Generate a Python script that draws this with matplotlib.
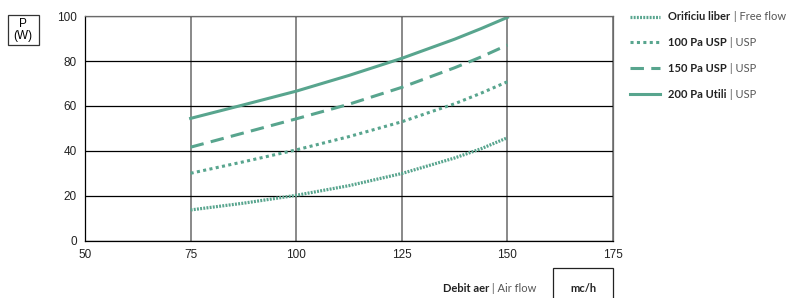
import matplotlib.pyplot as plt
from matplotlib.patches import Rectangle

# air flow (mc/h) and power (W)
flow = [75, 87.5, 100, 112.5, 125, 137.5, 143.75, 150]
free_flow = [13.8, 16.8, 20.3, 24.6, 30.0, 36.9, 41.0, 45.9]
usp_100 = [30.1, 35.2, 40.5, 46.4, 53.0, 61.0, 65.7, 70.8]
usp_150 = [41.7, 48.0, 54.3, 60.8, 68.3, 77.0, 81.8, 87.1]
usp_200 = [54.5, 60.5, 66.6, 73.6, 81.2, 89.7, 94.4, 99.4]

names_bold = ['Orificiu liber', '100 Pa USP', '150 Pa USP', '200 Pa Utili']
names_rest = [' | Free flow', ' | USP', ' | USP', ' | USP']

teal = '#58a58e'

fig = plt.figure(figsize=(7.88, 2.98), dpi=100)
ax = fig.add_axes([0.1079, 0.1913, 0.6701, 0.755])

l1, = ax.plot(flow, free_flow, color=teal, lw=2.3, linestyle=(0, (0.6, 0.4)))
l2, = ax.plot(flow, usp_100, color=teal, lw=2.2, linestyle=(0, (1, 1.1)))
l3, = ax.plot(flow, usp_150, color=teal, lw=2.2, linestyle=(0, (4.4, 2.4)))
l4, = ax.plot(flow, usp_200, color=teal, lw=2.2)

ax.set_xlim(50, 175)
ax.set_ylim(0, 100)
ax.set_xticks([50, 75, 100, 125, 150, 175])
ax.set_yticks([0, 20, 40, 60, 80, 100])
ax.grid(True, axis='y', color='black', lw=0.9)
ax.grid(True, axis='x', color='#6a6a6a', lw=1.1)
ax.set_axisbelow(True)
for s in ax.spines.values():
    s.set_linewidth(0.9)
ax.spines['top'].set_color('#6a6a6a')
ax.spines['right'].set_color('#6a6a6a')
ax.tick_params(length=0, pad=6, labelsize=8.5, labelcolor='#222222')
for t in ax.get_xticklabels() + ax.get_yticklabels():
    t.set_fontfamily('Liberation Sans')

leg = fig.legend([l1, l2, l3, l4], names_bold, loc='upper left',
                 bbox_to_anchor=(0.787, 0.995), frameon=False,
                 handlelength=2.7, handletextpad=0.75, labelspacing=1.33,
                 prop={'family': 'Lato', 'weight': 'bold', 'size': 8})
for txt in leg.get_texts():
    txt.set_color('#222222')

# regular part of each legend label, right after the bold part
fig.canvas.draw()
W, H = fig.bbox.width, fig.bbox.height
for txt, rest in zip(leg.get_texts(), names_rest):
    bb = txt.get_window_extent()
    fig.text(bb.x1 / W, (bb.y0 + bb.y1) / 2 / H, rest, ha='left', va='center',
             fontfamily='Lato', fontsize=8, color='#555555')

# y unit box
fig.text(23 / 788, 1 - 30 / 298, 'P\n(W)', ha='center', va='center',
         fontsize=8.5, family='Liberation Sans', linespacing=1.1)
fig.add_artist(Rectangle((8 / 788, 1 - 45 / 298), 31 / 788, 30 / 298,
                         transform=fig.transFigure, fill=False, lw=0.9,
                         edgecolor='#333333'))

# x label and unit box
xl = fig.text(443 / 788, 1 - 289 / 298, 'Debit aer', ha='left', va='center',
              fontsize=8, family='Lato', weight='bold', color='#222222')
fig.canvas.draw()
bb = xl.get_window_extent()
fig.text(bb.x1 / W, 1 - 289 / 298, ' | Air flow', ha='left', va='center',
         fontsize=8, family='Lato', color='#555555')
fig.text(583 / 788, 1 - 289 / 298, 'mc/h', ha='center', va='center',
         fontsize=8, family='Lato', weight='bold', color='#222222')
fig.add_artist(Rectangle((553 / 788, -0.05), 60 / 788, 0.05 + 30 / 298,
                         transform=fig.transFigure, fill=False, lw=0.9,
                         edgecolor='#222222'))

fig.savefig('out.png', dpi=100)
